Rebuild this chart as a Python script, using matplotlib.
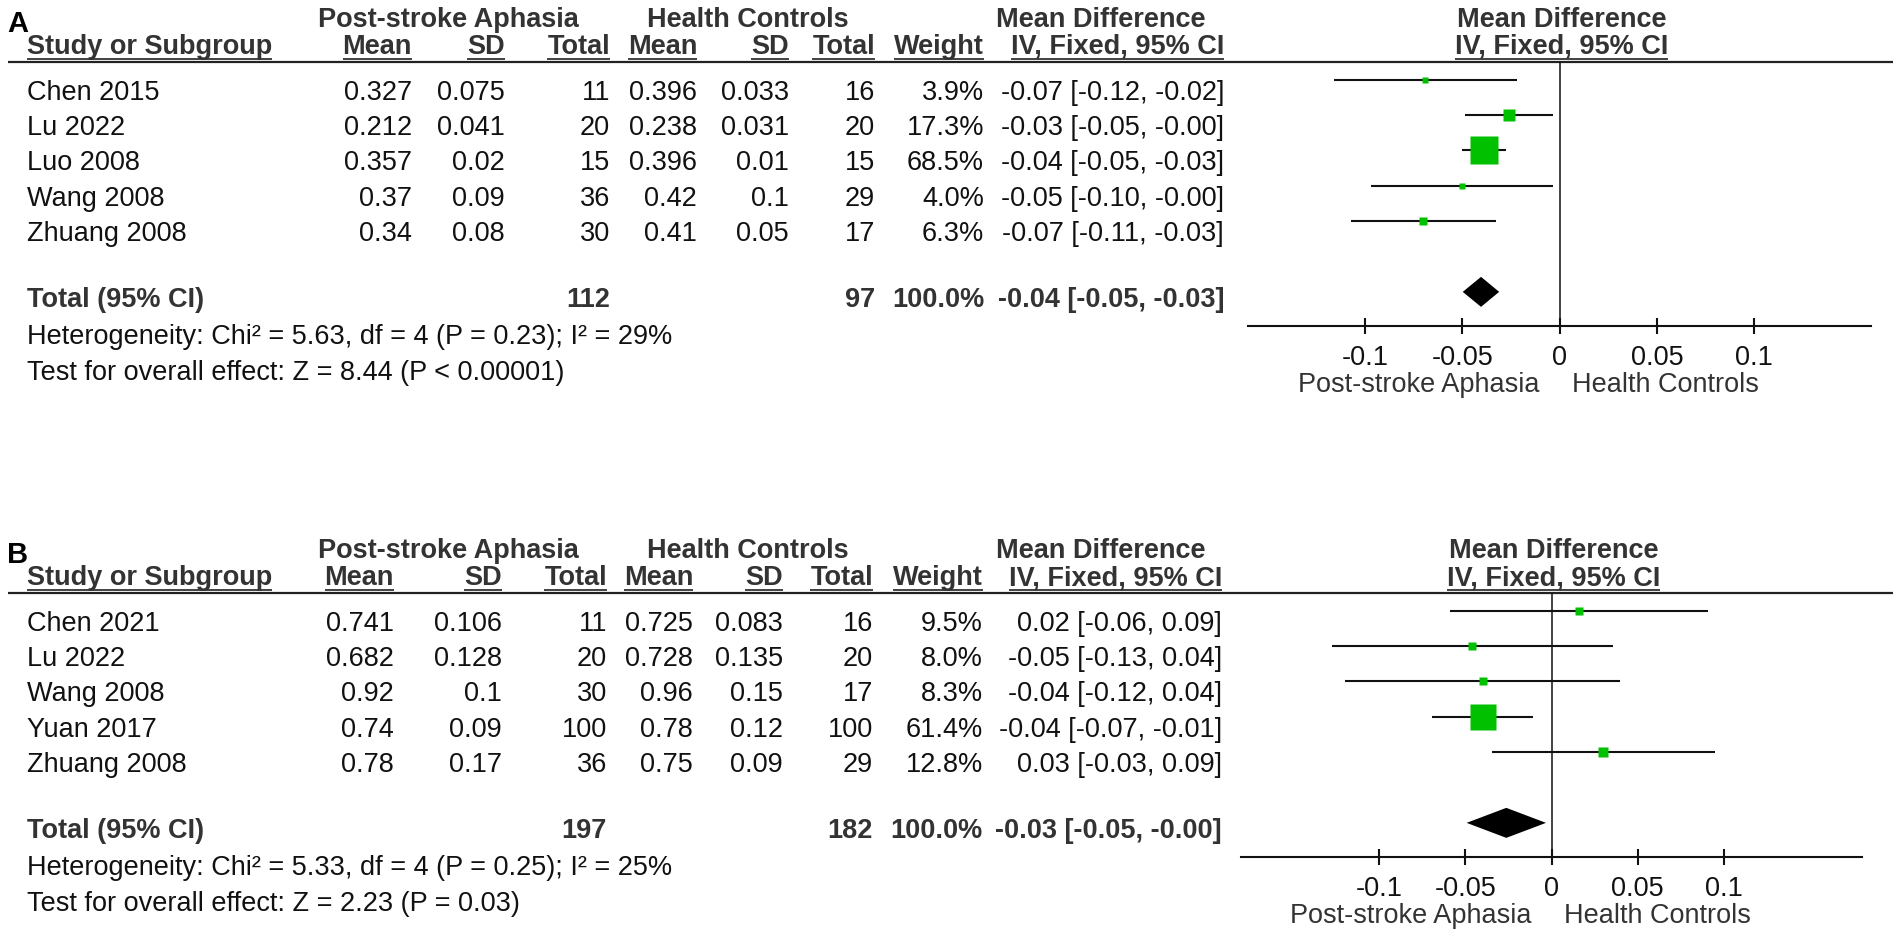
import matplotlib
matplotlib.use("Agg")
import matplotlib.pyplot as plt
from matplotlib.patches import Polygon

plt.rcParams['font.family'] = ['Liberation Sans', 'DejaVu Sans']

# ---- panel A: PSA vs controls ----
a_study = ['Chen 2015', 'Lu 2022', 'Luo 2008', 'Wang 2008', 'Zhuang 2008']
a_psa_mean = ['0.327', '0.212', '0.357', '0.37', '0.34']
a_psa_sd = ['0.075', '0.041', '0.02', '0.09', '0.08']
a_psa_n = [11, 20, 15, 36, 30]
a_hc_mean = ['0.396', '0.238', '0.396', '0.42', '0.41']
a_hc_sd = ['0.033', '0.031', '0.01', '0.1', '0.05']
a_hc_n = [16, 20, 15, 29, 17]
a_weight = [3.9, 17.3, 68.5, 4.0, 6.3]
a_md = [-0.069, -0.026, -0.039, -0.050, -0.070]
a_lo = [-0.116, -0.0485, -0.0503, -0.0968, -0.1072]
a_hi = [-0.022, -0.0035, -0.0277, -0.0032, -0.0328]
a_total_n = [112, 97]
a_pooled = [-0.0403, -0.0497, -0.0310]
a_het = 'Heterogeneity: Chi\u00b2 = 5.63, df = 4 (P = 0.23); I\u00b2 = 29%'
a_test = 'Test for overall effect: Z = 8.44 (P < 0.00001)'

# ---- panel B ----
b_study = ['Chen 2021', 'Lu 2022', 'Wang 2008', 'Yuan 2017', 'Zhuang 2008']
b_psa_mean = ['0.741', '0.682', '0.92', '0.74', '0.78']
b_psa_sd = ['0.106', '0.128', '0.1', '0.09', '0.17']
b_psa_n = [11, 20, 30, 100, 36]
b_hc_mean = ['0.725', '0.728', '0.96', '0.78', '0.75']
b_hc_sd = ['0.083', '0.135', '0.15', '0.12', '0.09']
b_hc_n = [16, 20, 17, 100, 29]
b_weight = [9.5, 8.0, 8.3, 61.4, 12.8]
b_md = [0.016, -0.046, -0.040, -0.040, 0.030]
b_lo = [-0.0587, -0.1275, -0.1198, -0.0694, -0.0345]
b_hi = [0.0907, 0.0355, 0.0398, -0.0106, 0.0945]
b_total_n = [197, 182]
b_pooled = [-0.0262, -0.0492, -0.0032]
b_het = 'Heterogeneity: Chi\u00b2 = 5.33, df = 4 (P = 0.25); I\u00b2 = 25%'
b_test = 'Test for overall effect: Z = 2.23 (P = 0.03)'

tick_vals = [-0.1, -0.05, 0, 0.05, 0.1]
tick_text = ['-0.1', '-0.05', '0', '0.05', '0.1']

W, H = 1902, 938
FS = 19.5
HEAD = '#333333'
INK = '#111111'
GREEN = '#00c000'
ROW_H = 35.2

fig = plt.figure(figsize=(W / 100, H / 100), dpi=100)
bg = fig.add_axes([0, 0, 1, 1])
bg.set_xlim(0, W)
bg.set_ylim(H, 0)
bg.axis('off')

underlined = []  # (text artist, y of underline) -> drawn after layout


def ci_text(m, lo, hi):
    return f"{m:.2f} [{lo:.2f}, {hi:.2f}]"


def panel(tag, dy, study, psa_mean, psa_sd, psa_n, hc_mean, hc_sd, hc_n,
          weight, md, lo, hi, total_n, pooled, het, test, cols, ax_x, lim):
    hb = dict(fontsize=FS, fontweight='bold', color=HEAD, va='baseline')
    tx = dict(fontsize=FS, color=INK, va='baseline')

    bg.text(7, 32 + dy, tag, fontsize=21, fontweight='bold', color='black', va='baseline')
    bg.text(cols['psa_c'], 27 + dy, 'Post-stroke Aphasia', ha='center', **hb)
    bg.text(cols['hc_c'], 27 + dy, 'Health Controls', ha='center', **hb)
    bg.text(cols['md_c'], 27 + dy, 'Mean Difference', ha='center', **hb)

    t = bg.text(27, 54 + dy, 'Study or Subgroup', ha='left', **hb)
    underlined.append((t, 59 + dy))
    heads = ['Mean', 'SD', 'Total', 'Mean', 'SD', 'Total', 'Weight', 'IV, Fixed, 95% CI']
    keys = ['m1', 's1', 'n1', 'm2', 's2', 'n2', 'w', 'ci']
    for h, k in zip(heads, keys):
        t = bg.text(cols[k], 54 + dy, h, ha='right', **hb)
        underlined.append((t, 59 + dy))
    bg.plot([8, 1893], [62 + dy, 62 + dy], color='#222222', lw=1.6, solid_capstyle='butt')

    for i, name in enumerate(study):
        y = 100 + ROW_H * i + dy
        bg.text(27, y, name, ha='left', **tx)
        vals = [psa_mean[i], psa_sd[i], str(psa_n[i]), hc_mean[i], hc_sd[i],
                str(hc_n[i]), f"{weight[i]:.1f}%", ci_text(md[i], lo[i], hi[i])]
        for v, k in zip(vals, keys):
            bg.text(cols[k], y, v, ha='right', **tx)

    ty = 307 + dy
    bg.text(27, ty, 'Total (95% CI)', ha='left', **hb)
    bg.text(cols['n1'], ty, str(total_n[0]), ha='right', **hb)
    bg.text(cols['n2'], ty, str(total_n[1]), ha='right', **hb)
    bg.text(cols['w'], ty, '100.0%', ha='right', **hb)
    bg.text(cols['ci'], ty, ci_text(*pooled), ha='right', **hb)
    bg.text(27, 344 + dy, het, ha='left', **tx)
    bg.text(27, 380 + dy, test, ha='left', **tx)

    # forest plot
    x0, x1 = ax_x
    ax = fig.add_axes([x0 / W, 1 - (326 + dy) / H, (x1 - x0) / W, 264 / H])
    ax.patch.set_alpha(0)
    ax.set_xlim(-lim, lim)
    ax.set_ylim(6.99, -0.511)
    for s in ['top', 'right', 'left']:
        ax.spines[s].set_visible(False)
    ax.spines['bottom'].set_linewidth(1.5)
    ax.spines['bottom'].set_color(INK)
    ax.set_yticks([])
    ax.set_xticks(tick_vals, tick_text)
    ax.tick_params(axis='x', direction='inout', length=12, width=1.5, pad=7.5,
                   labelsize=FS, labelcolor=INK, color=INK)
    ax.axvline(0, color=INK, lw=1.1)

    for i in range(len(study)):
        ax.plot([lo[i], hi[i]], [i, i], color=INK, lw=1.5, solid_capstyle='butt')
        side = 5.5 + 0.335 * weight[i]
        ax.plot(md[i], i, marker='s', ms=side * 0.72, color=GREEN, mec='none')

    r = 6.02
    h = 15 / ROW_H
    ax.add_patch(Polygon([(pooled[1], r), (pooled[0], r - h), (pooled[2], r), (pooled[0], r + h)],
                         closed=True, color='black', lw=0))

    ax.annotate('Mean Difference', xy=(0, 1), xycoords=('data', 'axes fraction'),
                xytext=(2, 35), textcoords='offset pixels', ha='center', **hb)
    t = ax.annotate('IV, Fixed, 95% CI', xy=(0, 1), xycoords=('data', 'axes fraction'),
                    xytext=(2, 8), textcoords='offset pixels', ha='center', **hb)
    underlined.append((t, 59 + dy))
    ax.annotate('Post-stroke Aphasia', xy=(0, 0), xycoords=('data', 'axes fraction'),
                xytext=(-20, -66), textcoords='offset pixels', ha='right',
                fontsize=FS, color=HEAD, va='baseline')
    ax.annotate('Health Controls', xy=(0, 0), xycoords=('data', 'axes fraction'),
                xytext=(12, -66), textcoords='offset pixels', ha='left',
                fontsize=FS, color=HEAD, va='baseline')


cols_a = dict(psa_c=448, hc_c=748, md_c=1101, m1=412, s1=505, n1=610, m2=697,
              s2=789, n2=875, w=984, ci=1224)
cols_b = dict(psa_c=448, hc_c=748, md_c=1101, m1=394, s1=502, n1=607, m2=693,
              s2=783, n2=873, w=983, ci=1222)

panel('A', 0, a_study, a_psa_mean, a_psa_sd, a_psa_n, a_hc_mean, a_hc_sd, a_hc_n,
      a_weight, a_md, a_lo, a_hi, a_total_n, a_pooled, a_het, a_test,
      cols_a, (1248, 1871), 0.16)
panel('B', 531, b_study, b_psa_mean, b_psa_sd, b_psa_n, b_hc_mean, b_hc_sd, b_hc_n,
      b_weight, b_md, b_lo, b_hi, b_total_n, b_pooled, b_het, b_test,
      cols_b, (1241, 1862), 0.18)

# underline the column headings (RevMan style)
fig.canvas.draw()
rend = fig.canvas.get_renderer()
for t, y in underlined:
    bb = t.get_window_extent(rend)
    bg.plot([bb.x0, bb.x1], [y, y], color=HEAD, lw=1.3, solid_capstyle='butt')

fig.savefig('out.png', dpi=100)
